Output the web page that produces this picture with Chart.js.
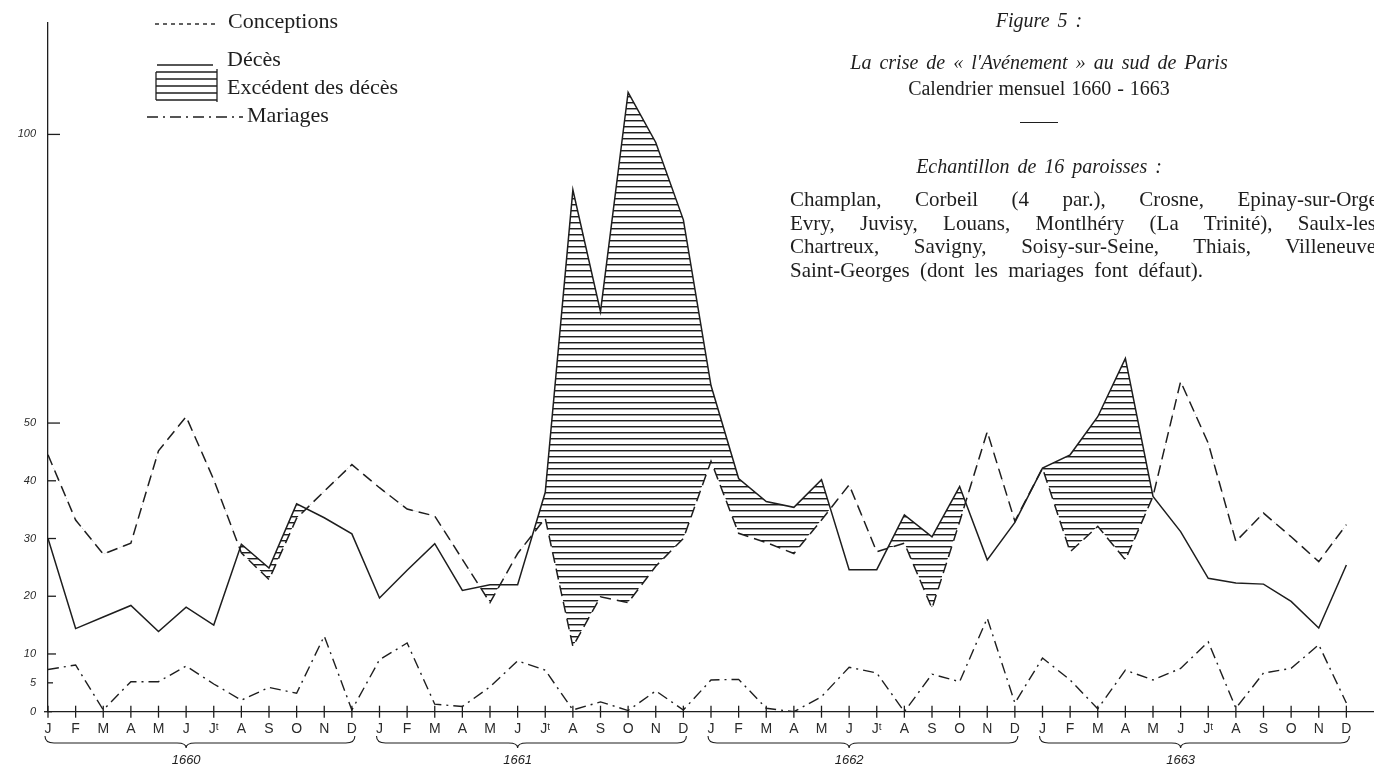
<!DOCTYPE html>
<html lang="fr">
<head>
<meta charset="utf-8">
<title>La crise de l'Avénement au sud de Paris</title>
<script src="https://cdn.jsdelivr.net/npm/chart.js@4.4.1/dist/chart.umd.min.js"></script>
<style>
  html, body { margin: 0; padding: 0; background: #fff; overflow: hidden; }
  #wrap { position: relative; width: 1374px; height: 771px; }
  #chart { position: absolute; left: 0; top: 0; }
  .txt { position: absolute; font-family: "Liberation Serif", "DejaVu Serif", serif; color: #1e1e1e; white-space: nowrap; }
  .leg { font-size: 22px; line-height: 24px; }
  .ctr { left: 789px; width: 500px; text-align: center; font-size: 20px; line-height: 24px; word-spacing: 3px; }
  .it { font-style: italic; }
  .rule { position: absolute; left: 1020px; top: 122px; width: 38px; border-top: 1.5px solid #1e1e1e; }
  .para { position: absolute; left: 790px; top: 188px; font-family: "Liberation Serif", "DejaVu Serif", serif; font-size: 21px; line-height: 23.5px; color: #1e1e1e; word-spacing: 5px; }
  .jl { width: 593px; text-align: justify; text-align-last: justify; word-spacing: 0; }
</style>
</head>
<body>
<div id="wrap">
  <canvas id="chart" width="1374" height="771"></canvas>

  <div class="txt leg" style="left:228px;top:9px">Conceptions</div>
  <div class="txt leg" style="left:227px;top:47px">Décès</div>
  <div class="txt leg" style="left:227px;top:75px">Excédent des décès</div>
  <div class="txt leg" style="left:247px;top:103px">Mariages</div>

  <div class="txt ctr it" style="top:8px">Figure 5 :</div>
  <div class="txt ctr it" style="top:50px">La crise de « l'Avénement » au sud de Paris</div>
  <div class="txt ctr" style="top:76px;word-spacing:1px">Calendrier mensuel 1660 - 1663</div>
  <div class="rule"></div>
  <div class="txt ctr it" style="top:154px">Echantillon de 16 paroisses :</div>
  <div class="para">
    <div class="jl">Champlan, Corbeil (4 par.), Crosne, Epinay-sur-Orge,</div>
    <div class="jl">Evry, Juvisy, Louans, Montlhéry (La Trinité), Saulx-les-</div>
    <div class="jl">Chartreux, Savigny, Soisy-sur-Seine, Thiais, Villeneuve-</div>
    <div>Saint-Georges (dont les mariages font défaut).</div>
  </div>
</div>

<script>
const MONTHS = ["J", "F", "M", "A", "M", "J", "Jᵗ", "A", "S", "O", "N", "D"];
const YEARS = ["1660", "1661", "1662", "1663"];
const Y_TICKS = [0, 5, 10, 20, 30, 40, 50, 100];

// monthly values, Jan 1660 -> Dec 1663
const conceptions = [
  44.5, 33.2, 27.3, 29.2, 45.2, 51.1, 40.2, 27.5, 22.9, 33.5, 38.2, 42.8,
  38.8, 35.1, 33.9, 26.4, 18.9, 27.4, 33.5, 11.3, 19.9, 18.9, 25.2, 30.0,
  43.4, 30.9, 29.3, 27.4, 33.2, 39.3, 27.7, 29.2, 17.9, 32.9, 48.5, 33.0,
  42.2, 27.7, 32.1, 26.3, 37.3, 57.2, 46.5, 29.5, 34.4, 30.3, 26.0, 32.4,
];
const deces = [
  30.0, 14.4, 16.4, 18.4, 13.9, 18.1, 15.0, 29.0, 24.9, 36.0, 33.6, 30.8,
  19.7, 24.5, 29.1, 21.0, 22.0, 22.0, 38.0, 90.4, 69.3, 107.3, 98.6, 85.2,
  56.5, 40.4, 36.4, 35.4, 40.2, 24.6, 24.6, 34.1, 30.3, 39.0, 26.3, 32.8,
  42.2, 44.5, 51.1, 61.2, 37.3, 31.2, 23.1, 22.3, 22.1, 19.1, 14.5, 25.4,
];
const mariages = [
  7.3, 8.1, 0.3, 5.2, 5.2, 7.9, 4.8, 2.0, 4.2, 3.2, 13.1, 0.3,
  9.0, 11.9, 1.3, 0.9, 4.3, 8.8, 7.2, 0.3, 1.7, 0.2, 3.6, 0.3,
  5.5, 5.6, 0.6, 0.0, 2.6, 7.7, 6.7, 0.0, 6.5, 5.2, 16.2, 1.5,
  9.3, 5.5, 0.5, 7.2, 5.5, 7.5, 12.1, 0.6, 6.7, 7.5, 11.6, 1.5,
];

const INK = "#1e1e1e";
const DASH = [11, 6];
const DASH_DOT = [11, 5, 2, 5];

function toPoints(values) {
  return values.map((v, i) => ({ x: i, y: v }));
}

// horizontal hatching for "Excédent des décès"
function hatchPattern(ctx) {
  const c = document.createElement("canvas");
  c.width = 8;
  c.height = 6;
  const g = c.getContext("2d");
  g.fillStyle = INK;
  g.fillRect(0, 0, 8, 1);
  g.fillStyle = "rgba(30,30,30,0.45)";
  g.fillRect(0, 1, 8, 1);
  return ctx.createPattern(c, "repeat");
}

function line(ctx, x1, y1, x2, y2) {
  ctx.beginPath();
  ctx.moveTo(x1, y1);
  ctx.lineTo(x2, y2);
  ctx.stroke();
}

function brace(ctx, a, b, m, top) {
  const h = 7;
  ctx.beginPath();
  ctx.moveTo(a, top);
  ctx.quadraticCurveTo(a, top + h, a + 9, top + h);
  ctx.lineTo(m - 9, top + h);
  ctx.quadraticCurveTo(m, top + h, m, top + h + 5);
  ctx.quadraticCurveTo(m, top + h, m + 9, top + h);
  ctx.lineTo(b - 9, top + h);
  ctx.quadraticCurveTo(b, top + h, b, top);
  ctx.stroke();
}

const decor = {
  id: "decor",
  afterDraw(chart) {
    const ctx = chart.ctx;
    const xs = chart.scales.x;
    const ys = chart.scales.y;
    const y0 = ys.getPixelForValue(0);
    const x0 = xs.getPixelForValue(0);
    ctx.save();
    ctx.strokeStyle = INK;
    ctx.fillStyle = INK;
    ctx.lineWidth = 1.3;

    // month ticks cross the axis
    for (let i = 0; i < MONTHS.length * YEARS.length; i++) {
      const px = xs.getPixelForValue(i);
      line(ctx, px, y0 - 6, px, y0 + 6);
    }
    // value ticks point into the plot
    Y_TICKS.forEach((v) => {
      const py = ys.getPixelForValue(v);
      const len = v >= 50 ? 12 : v === 5 ? 5 : v === 0 ? 4 : 8;
      line(ctx, x0 - (v === 0 ? 4 : 0), py, x0 + len, py);
    });

    // year braces
    ctx.lineWidth = 1.1;
    ctx.font = "italic 13px 'Liberation Sans', sans-serif";
    ctx.textAlign = "center";
    ctx.textBaseline = "middle";
    YEARS.forEach((yr, k) => {
      const a = xs.getPixelForValue(k * 12) - 3;
      const b = xs.getPixelForValue(k * 12 + 11) + 3;
      const m = xs.getPixelForValue(k * 12 + 5);
      brace(ctx, a, b, m, 736);
      ctx.fillText(yr, m, 760);
    });

    // legend samples
    ctx.lineWidth = 1.4;
    ctx.setLineDash([4, 4]);
    line(ctx, 155, 24, 218, 24);
    ctx.setLineDash([]);
    line(ctx, 157, 65, 213, 65);
    ctx.lineWidth = 1.3;
    [72, 79, 86, 93, 100].forEach((py) => line(ctx, 156, py, 217, py));
    line(ctx, 156, 72, 156, 100);
    line(ctx, 217, 69, 217, 102);
    ctx.lineWidth = 1.4;
    ctx.setLineDash(DASH_DOT);
    line(ctx, 147, 117, 243, 117);
    ctx.restore();
  },
};

const canvas = document.getElementById("chart");
const ctx = canvas.getContext("2d");

new Chart(ctx, {
  type: "line",
  data: {
    datasets: [
      {
        label: "Conceptions",
        data: toPoints(conceptions),
        borderColor: INK,
        borderWidth: 1.5,
        borderDash: DASH,
        fill: false,
      },
      {
        label: "Décès",
        data: toPoints(deces),
        borderColor: INK,
        borderWidth: 1.5,
        fill: { target: 0, above: hatchPattern(ctx), below: "rgba(0,0,0,0)" },
      },
      {
        label: "Mariages",
        data: toPoints(mariages),
        borderColor: INK,
        borderWidth: 1.4,
        borderDash: DASH_DOT,
        fill: false,
      },
    ],
  },
  options: {
    responsive: false,
    animation: false,
    layout: { padding: { top: 23, right: 0, bottom: 0, left: 0 } },
    elements: {
      point: { radius: 0 },
      line: { tension: 0 },
    },
    plugins: {
      legend: { display: false },
      tooltip: { enabled: false },
    },
    scales: {
      x: {
        type: "linear",
        min: 0,
        max: 48,
        afterBuildTicks: (scale) => {
          scale.ticks = toPoints(conceptions).map((p) => ({ value: p.x }));
        },
        afterFit: (scale) => {
          scale.height = 59.3;
        },
        ticks: {
          autoSkip: false,
          maxRotation: 0,
          padding: 9,
          color: "#2a2a2a",
          font: { family: "'Liberation Sans', 'DejaVu Sans', sans-serif", size: 14 },
          callback: (value) => MONTHS[value % 12],
        },
        grid: { display: false, drawTicks: false },
        border: { display: true, color: INK, width: 1.3 },
      },
      y: {
        min: 0,
        max: 119.3,
        afterBuildTicks: (scale) => {
          scale.ticks = Y_TICKS.map((v) => ({ value: v }));
        },
        afterFit: (scale) => {
          scale.width = 48;
        },
        ticks: {
          padding: 12,
          color: "#2a2a2a",
          font: { family: "'Liberation Sans', 'DejaVu Sans', sans-serif", size: 11, style: "italic" },
        },
        grid: { display: false, drawTicks: false },
        border: { display: true, color: INK, width: 1.3 },
      },
    },
  },
  plugins: [decor],
});
</script>
</body>
</html>
